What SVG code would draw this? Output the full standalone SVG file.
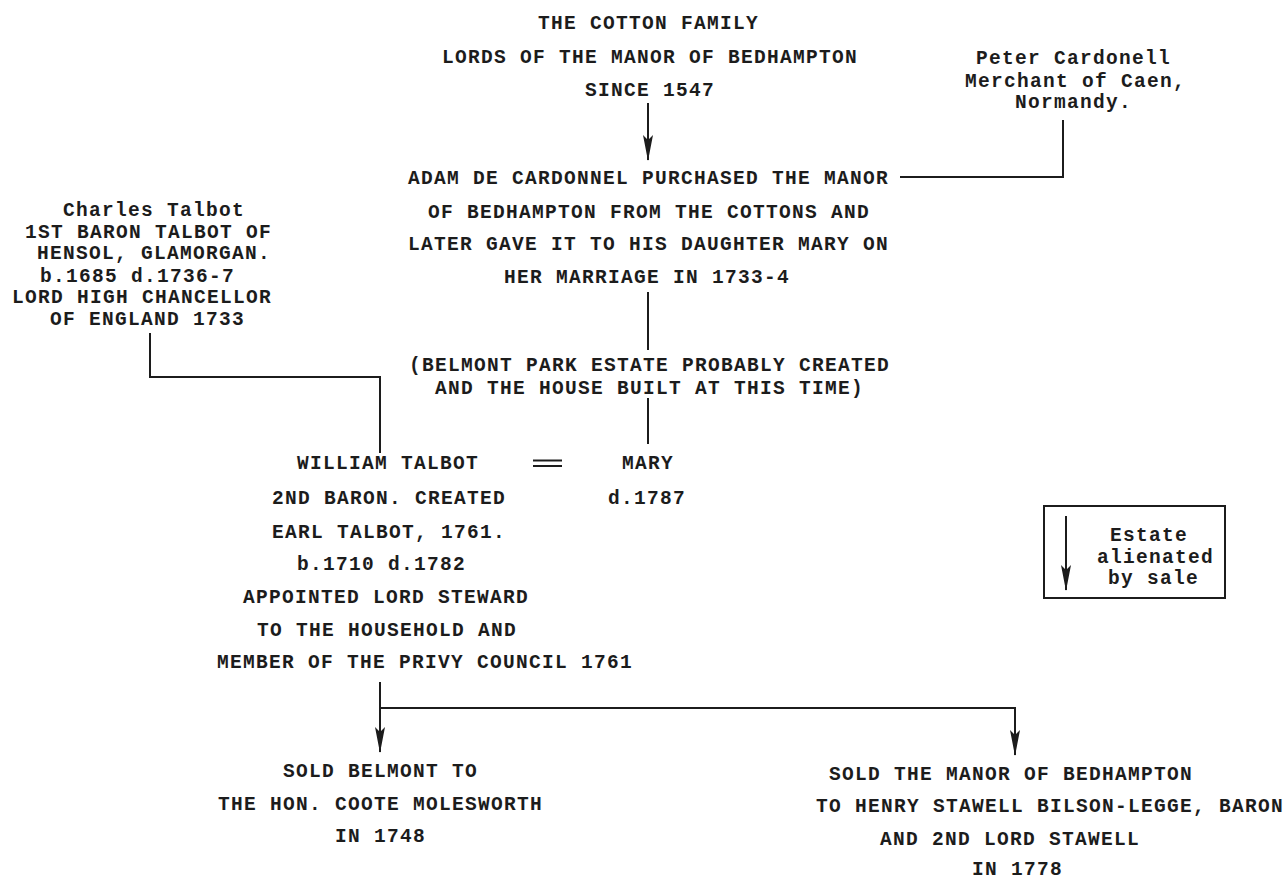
<svg xmlns="http://www.w3.org/2000/svg" width="1287" height="882" viewBox="0 0 1287 882">
<style>
text{font-family:"Liberation Mono","Courier New",monospace;font-weight:bold;font-size:19.5px;letter-spacing:1.3px;fill:#1c1c1c}
.ln{stroke:#1c1c1c;stroke-width:2;fill:none}
</style>
<defs>
<marker id="ah" viewBox="0 0 26 10" markerWidth="26" markerHeight="10" refX="25" refY="5" orient="auto" markerUnits="userSpaceOnUse">
<path d="M0,0 L26,5 L0,10 L5,5 z" fill="#1c1c1c"/>
</marker>
</defs>
<rect width="1287" height="882" fill="#fff"/>
<g id="connectors">
<line class="ln" x1="648" y1="103" x2="648" y2="160" marker-end="url(#ah)"/>
<polyline class="ln" points="900,177 1063,177 1063,120"/>
<line class="ln" x1="648" y1="292" x2="648" y2="350"/>
<line class="ln" x1="648" y1="398" x2="648" y2="444"/>
<polyline class="ln" points="150,333 150,377 380,377 380,453"/>
<line class="ln" x1="380" y1="682" x2="380" y2="752" marker-end="url(#ah)"/>
<polyline class="ln" points="380,708 1015,708 1015,755" marker-end="url(#ah)"/>
</g>
<g id="cotton">
<text x="538" y="29">THE COTTON FAMILY</text>
<text x="442" y="63">LORDS OF THE MANOR OF BEDHAMPTON</text>
<text x="585" y="96">SINCE 1547</text>
</g>
<g id="peter">
<text x="976" y="64">Peter Cardonell</text>
<text x="965" y="87">Merchant of Caen,</text>
<text x="1015" y="108">Normandy.</text>
</g>
<g id="adam">
<text x="408" y="184">ADAM DE CARDONNEL PURCHASED THE MANOR</text>
<text x="428" y="218">OF BEDHAMPTON FROM THE COTTONS AND</text>
<text x="408" y="250">LATER GAVE IT TO HIS DAUGHTER MARY ON</text>
<text x="504" y="283">HER MARRIAGE IN 1733-4</text>
</g>
<g id="belmont">
<text x="409" y="371">(BELMONT PARK ESTATE PROBABLY CREATED</text>
<text x="435" y="394">AND THE HOUSE BUILT AT THIS TIME)</text>
</g>
<g id="charles">
<text x="63" y="216">Charles Talbot</text>
<text x="25" y="238">1ST BARON TALBOT OF</text>
<text x="37" y="259">HENSOL, GLAMORGAN.</text>
<text x="40" y="282">b.1685 d.1736-7</text>
<text x="12" y="303">LORD HIGH CHANCELLOR</text>
<text x="50" y="325">OF ENGLAND 1733</text>
</g>
<g id="william">
<text x="297" y="469">WILLIAM TALBOT</text>
<text x="272" y="504">2ND BARON. CREATED</text>
<text x="272" y="538">EARL TALBOT, 1761.</text>
<text x="297" y="570">b.1710 d.1782</text>
<text x="243" y="603">APPOINTED LORD STEWARD</text>
<text x="257" y="636">TO THE HOUSEHOLD AND</text>
<text x="217" y="668">MEMBER OF THE PRIVY COUNCIL 1761</text>
</g>
<g id="marriage">
<line class="ln" x1="533" y1="460.5" x2="562" y2="460.5" stroke-width="2.5"/>
<line class="ln" x1="533" y1="466" x2="562" y2="466" stroke-width="2.5"/>
</g>
<g id="mary">
<text x="622" y="469">MARY</text>
<text x="608" y="504">d.1787</text>
</g>
<g id="legend">
<rect x="1044" y="506" width="181" height="92" class="ln"/>
<line class="ln" x1="1066" y1="516" x2="1066" y2="590" marker-end="url(#ah)"/>
<text x="1110" y="541">Estate</text>
<text x="1097" y="563">alienated</text>
<text x="1108" y="584">by sale</text>
</g>
<g id="sold-belmont">
<text x="283" y="777">SOLD BELMONT TO</text>
<text x="218" y="810">THE HON. COOTE MOLESWORTH</text>
<text x="335" y="842">IN 1748</text>
</g>
<g id="sold-manor">
<text x="829" y="780">SOLD THE MANOR OF BEDHAMPTON</text>
<text x="816" y="812">TO HENRY STAWELL BILSON-LEGGE, BARON</text>
<text x="880" y="845">AND 2ND LORD STAWELL</text>
<text x="972" y="875">IN 1778</text>
</g>
</svg>
